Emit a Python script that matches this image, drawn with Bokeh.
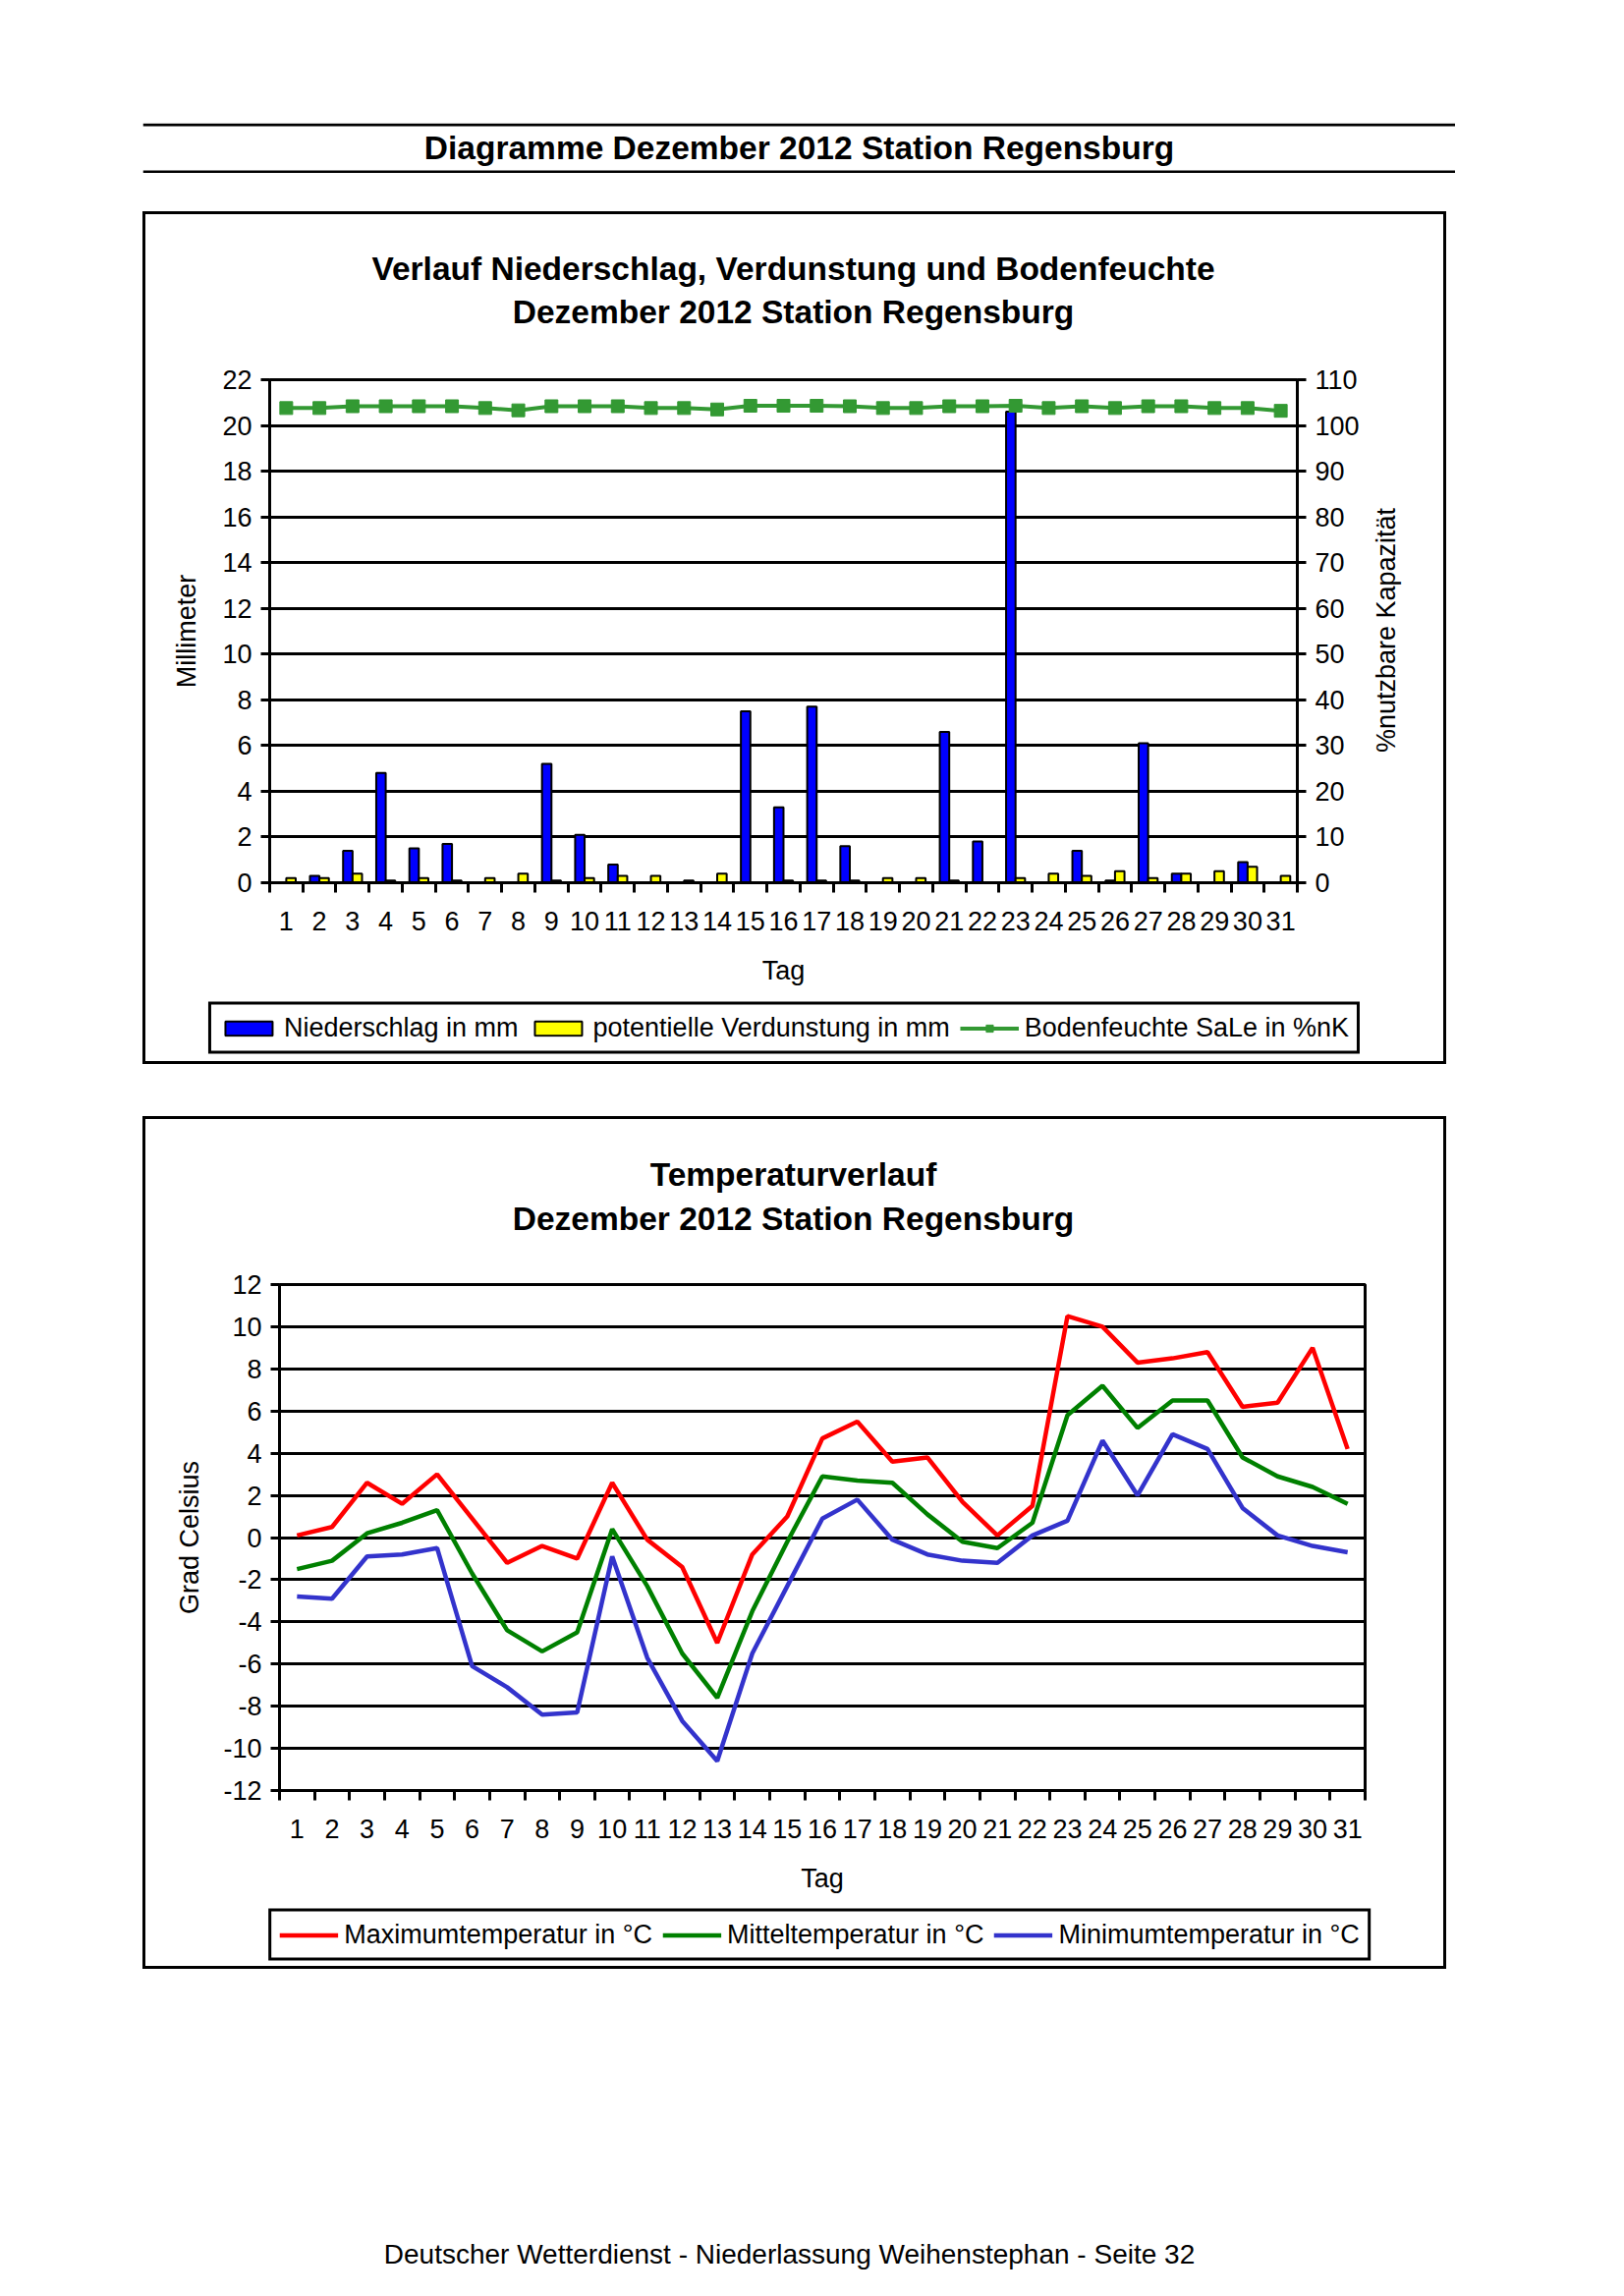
import math
from bokeh.plotting import figure
from bokeh.models import (Range1d, LinearAxis, FixedTicker, Legend, LegendItem, Label, Span)
from bokeh.transform import dodge
from bokeh.embed import file_html
from bokeh.resources import INLINE

FONT = "Liberation Sans"

# ---------------- data ----------------
days = list(range(1, 32))
day_labels = [str(d) for d in days]

niederschlag = [0.0, 0.3, 1.4, 4.8, 1.5, 1.7, 0.0, 0.0, 5.2, 2.1, 0.8, 0.0, 0.0, 0.0, 7.5, 3.3,
                7.7, 1.6, 0.0, 0.0, 6.6, 1.8, 20.6, 0.0, 1.4, 0.1, 6.1, 0.4, 0.0, 0.9, 0.0]
verdunstung = [0.2, 0.2, 0.4, 0.1, 0.2, 0.1, 0.2, 0.4, 0.1, 0.2, 0.3, 0.3, 0.1, 0.4, 0.0, 0.1,
               0.1, 0.1, 0.2, 0.2, 0.1, 0.0, 0.2, 0.4, 0.3, 0.5, 0.2, 0.4, 0.5, 0.7, 0.3]
bodenfeuchte = [103.8, 103.8, 104.2, 104.2, 104.2, 104.2, 103.8, 103.3, 104.2, 104.2, 104.2,
                103.8, 103.8, 103.5, 104.3, 104.3, 104.3, 104.2, 103.8, 103.8, 104.2, 104.2,
                104.3, 103.8, 104.2, 103.8, 104.2, 104.2, 103.8, 103.8, 103.2]

tmax = [0.1, 0.5, 2.6, 1.6, 3.0, 0.9, -1.2, -0.4, -1.0, 2.6, -0.1, -1.4, -5.0, -0.8, 1.0, 4.7,
        5.5, 3.6, 3.8, 1.7, 0.1, 1.5, 10.5, 10.0, 8.3, 8.5, 8.8, 6.2, 6.4, 9.0, 4.2]
tmean = [-1.5, -1.1, 0.2, 0.7, 1.3, -1.7, -4.4, -5.4, -4.5, 0.4, -2.3, -5.5, -7.6, -3.5, -0.2, 2.9,
         2.7, 2.6, 1.1, -0.2, -0.5, 0.7, 5.8, 7.2, 5.2, 6.5, 6.5, 3.8, 2.9, 2.4, 1.6]
tmin = [-2.8, -2.9, -0.9, -0.8, -0.5, -6.1, -7.1, -8.4, -8.3, -0.9, -5.7, -8.7, -10.6, -5.5, -2.3, 0.9,
        1.8, -0.1, -0.8, -1.1, -1.2, 0.1, 0.8, 4.6, 2.0, 4.9, 4.2, 1.4, 0.1, -0.4, -0.7]

mm_ticks = [0, 2, 4, 6, 8, 10, 12, 14, 16, 18, 20, 22]
pct_ticks = [0, 10, 20, 30, 40, 50, 60, 70, 80, 90, 100, 110]
temp_ticks = [-12, -10, -8, -6, -4, -2, 0, 2, 4, 6, 8, 10, 12]

header_text = "Diagramme Dezember 2012 Station Regensburg"
title1 = ["Verlauf Niederschlag, Verdunstung und Bodenfeuchte", "Dezember 2012 Station Regensburg"]
title2 = ["Temperaturverlauf", "Dezember 2012 Station Regensburg"]
legend1 = ["Niederschlag in mm", "potentielle Verdunstung in mm", "Bodenfeuchte SaLe in %nK"]
legend2 = ["Maximumtemperatur in °C", "Mitteltemperatur in °C", "Minimumtemperatur in °C"]
footer_text = "Deutscher Wetterdienst - Niederlassung Weihenstephan - Seite 32"

C_N, C_V, C_B = "#0000FF", "#FFFF00", "#339933"
C_MAX, C_MEAN, C_MIN = "#FF0000", "#008000", "#3333CC"

TXT = "27px"
BOLD = "33.5px"
W, H = 1321, 862          # canvas; a 3px CSS border is added around it
BAR_W = 1 / 3.5
TLW = 4.5


def style_y(ax):
    ax.axis_line_color = "black"
    ax.axis_line_width = 3
    ax.major_tick_line_color = "black"
    ax.major_tick_line_width = 3
    ax.major_tick_in = 0
    ax.major_tick_out = 9
    ax.minor_tick_line_color = None
    ax.major_label_text_font = FONT
    ax.major_label_text_font_size = TXT
    ax.major_label_text_color = "black"
    ax.axis_label_text_font = FONT
    ax.axis_label_text_font_size = TXT
    ax.axis_label_text_font_style = "normal"
    ax.axis_label_text_color = "black"


def style_x(ax):
    style_y(ax)
    ax.ticker = FixedTicker(ticks=days, minor_ticks=[d - 0.5 for d in days] + [days[-1] + 0.5])
    ax.major_label_overrides = {d: s for d, s in zip(days, day_labels)}
    ax.major_tick_line_color = None
    ax.major_tick_out = 0
    ax.minor_tick_line_color = "black"
    ax.minor_tick_line_width = 3
    ax.minor_tick_in = 0
    ax.minor_tick_out = 10
    ax.major_label_standoff = 19
    ax.axis_label = "Tag"
    ax.axis_label_standoff = 23


def pos(left, top, border=False):
    s = {"position": "absolute", "left": f"{left}px", "top": f"{top}px"}
    if border:
        s["border"] = "3px solid black"
        s["box-sizing"] = "content-box"
    return s


def overlay(left, top, w, h, xr=None, yr=None):
    f = figure(width=w, height=h,
               x_range=xr if xr is not None else Range1d(0, w),
               y_range=yr if yr is not None else Range1d(0, h),
               output_backend="svg", toolbar_location=None, min_border=0,
               x_axis_location=None, y_axis_location=None, outline_line_color=None)
    f.grid.visible = False
    f.background_fill_alpha = 0
    f.border_fill_alpha = 0
    f.styles = pos(left, top)
    return f


def text(f, x, y, t, size=TXT, bold=False, angle=0.0):
    f.add_layout(Label(x=x, y=y, text=t, text_align="center", text_baseline="middle", angle=angle,
                       text_font=FONT, text_font_size=size,
                       text_font_style="bold" if bold else "normal", text_color="black"))


def make_legend(items):
    return Legend(items=items, orientation="horizontal", location="center", margin=0,
                  border_line_color="black", border_line_width=3, border_line_alpha=1,
                  background_fill_color="white", background_fill_alpha=1,
                  label_text_font=FONT, label_text_font_size=TXT, label_text_color="black",
                  glyph_width=60, glyph_height=18, label_standoff=6, spacing=10,
                  padding=8, label_height=26)


# ---------------- header ----------------
head = overlay(145, 125, 1336, 51)
head.add_layout(Span(location=49.5, dimension="width", line_color="black", line_width=3))
head.add_layout(Span(location=1.5, dimension="width", line_color="black", line_width=3))
text(head, 668, 26, header_text, size=BOLD, bold=True)

# ---------------- chart 1 ----------------
p1 = figure(width=W, height=H, x_range=Range1d(0.5, 31.5), y_range=Range1d(0, 22),
            output_backend="svg", toolbar_location=None,
            min_border_left=126, min_border_right=155, min_border_top=168, min_border_bottom=188)
p1.styles = pos(145, 215, border=True)
p1.extra_y_ranges = {"pct": Range1d(0, 110)}
p1.outline_line_color = "black"
p1.outline_line_width = 3
p1.xgrid.visible = False
p1.ygrid.grid_line_color = "black"
p1.ygrid.grid_line_width = 3

ly = p1.yaxis[0]
style_y(ly)
ly.ticker = FixedTicker(ticks=mm_ticks)
ly.major_label_overrides = {t: str(t) for t in mm_ticks}
ly.major_label_standoff = 9
ly.axis_label = "Millimeter"
ly.axis_label_standoff = 18

ry = LinearAxis(y_range_name="pct")
style_y(ry)
ry.ticker = FixedTicker(ticks=pct_ticks)
ry.major_label_overrides = {t: str(t) for t in pct_ticks}
ry.major_label_standoff = 9
p1.add_layout(ry, "right")

style_x(p1.xaxis[0])

src1 = dict(day=days, n=niederschlag, v=verdunstung, b=bodenfeuchte)
p1.vbar(x=dodge("day", -BAR_W / 2, range=p1.x_range), top="n", bottom=0, width=BAR_W,
        source=src1, fill_color=C_N, line_color="black", line_width=2)
p1.vbar(x=dodge("day", BAR_W / 2, range=p1.x_range), top="v", bottom=0, width=BAR_W,
        source=src1, fill_color=C_V, line_color="black", line_width=2)
p1.line(x="day", y="b", source=src1, y_range_name="pct", line_color=C_B, line_width=4)
p1.scatter(x="day", y="b", source=src1, y_range_name="pct", marker="square", size=13,
           fill_color=C_B, line_color=C_B)

# chart 1 titles / right axis title / legend (overlays)
t1 = overlay(148, 235, W, 120)
text(t1, 659, 120 - (273 - 235), title1[0], size=BOLD, bold=True)
text(t1, 659, 120 - (317 - 235), title1[1], size=BOLD, bold=True)

rt = overlay(1388, 490, 44, 300)
text(rt, 22, 300 - (641 - 490), "%nutzbare Kapazität", angle=math.pi / 2)

# legend figures: same data, viewed outside its range so only the legend is drawn
lg1 = overlay(148, 1011, 1300, 70, xr=Range1d(1000, 1100), yr=Range1d(1000, 1100))
d_n = lg1.vbar(x="day", top="n", bottom=0, width=BAR_W, source=src1, fill_color=C_N,
               line_color="black", line_width=2)
d_v = lg1.vbar(x="day", top="v", bottom=0, width=BAR_W, source=src1, fill_color=C_V,
               line_color="black", line_width=2)
d_bl = lg1.line(x="day", y="b", source=src1, line_color=C_B, line_width=4)
d_bm = lg1.scatter(x="day", y="b", source=src1, marker="square", size=13,
                   fill_color=C_B, line_color=C_B)
lg1.add_layout(make_legend([LegendItem(label=legend1[0], renderers=[d_n]),
                            LegendItem(label=legend1[1], renderers=[d_v]),
                            LegendItem(label=legend1[2], renderers=[d_bl, d_bm])]), "center")

# ---------------- chart 2 ----------------
p2 = figure(width=W, height=H, x_range=Range1d(0.5, 31.5), y_range=Range1d(-12, 12),
            output_backend="svg", toolbar_location=None,
            min_border_left=136, min_border_right=86, min_border_top=168, min_border_bottom=185)
p2.styles = pos(145, 1136, border=True)
p2.outline_line_color = "black"
p2.outline_line_width = 3
p2.xgrid.visible = False
p2.ygrid.grid_line_color = "black"
p2.ygrid.grid_line_width = 3

ty = p2.yaxis[0]
style_y(ty)
ty.ticker = FixedTicker(ticks=temp_ticks)
ty.major_label_overrides = {t: str(t) for t in temp_ticks}
ty.major_label_standoff = 9
ty.axis_label = "Grad Celsius"
ty.axis_label_standoff = 16
style_x(p2.xaxis[0])

src2 = dict(day=days, tmax=tmax, tmean=tmean, tmin=tmin)
p2.line(x="day", y="tmax", source=src2, line_color=C_MAX, line_width=TLW)
p2.line(x="day", y="tmean", source=src2, line_color=C_MEAN, line_width=TLW)
p2.line(x="day", y="tmin", source=src2, line_color=C_MIN, line_width=TLW)

t2 = overlay(148, 1155, W, 120)
text(t2, 659, 120 - (1195 - 1155), title2[0], size=BOLD, bold=True)
text(t2, 659, 120 - (1240 - 1155), title2[1], size=BOLD, bold=True)

lg2 = overlay(184, 1934, 1300, 70, xr=Range1d(1000, 1100), yr=Range1d(1000, 1100))
d_max = lg2.line(x="day", y="tmax", source=src2, line_color=C_MAX, line_width=TLW)
d_mean = lg2.line(x="day", y="tmean", source=src2, line_color=C_MEAN, line_width=TLW)
d_min = lg2.line(x="day", y="tmin", source=src2, line_color=C_MIN, line_width=TLW)
lg2.add_layout(make_legend([LegendItem(label=legend2[0], renderers=[d_max]),
                            LegendItem(label=legend2[1], renderers=[d_mean]),
                            LegendItem(label=legend2[2], renderers=[d_min])]), "center")

# ---------------- footer ----------------
foot = overlay(145, 2274, 1336, 40)
text(foot, 658, 20, footer_text, size="28px")

open("out.html", "w").write(file_html([head, p1, p2, t1, rt, lg1, t2, lg2, foot], INLINE))
